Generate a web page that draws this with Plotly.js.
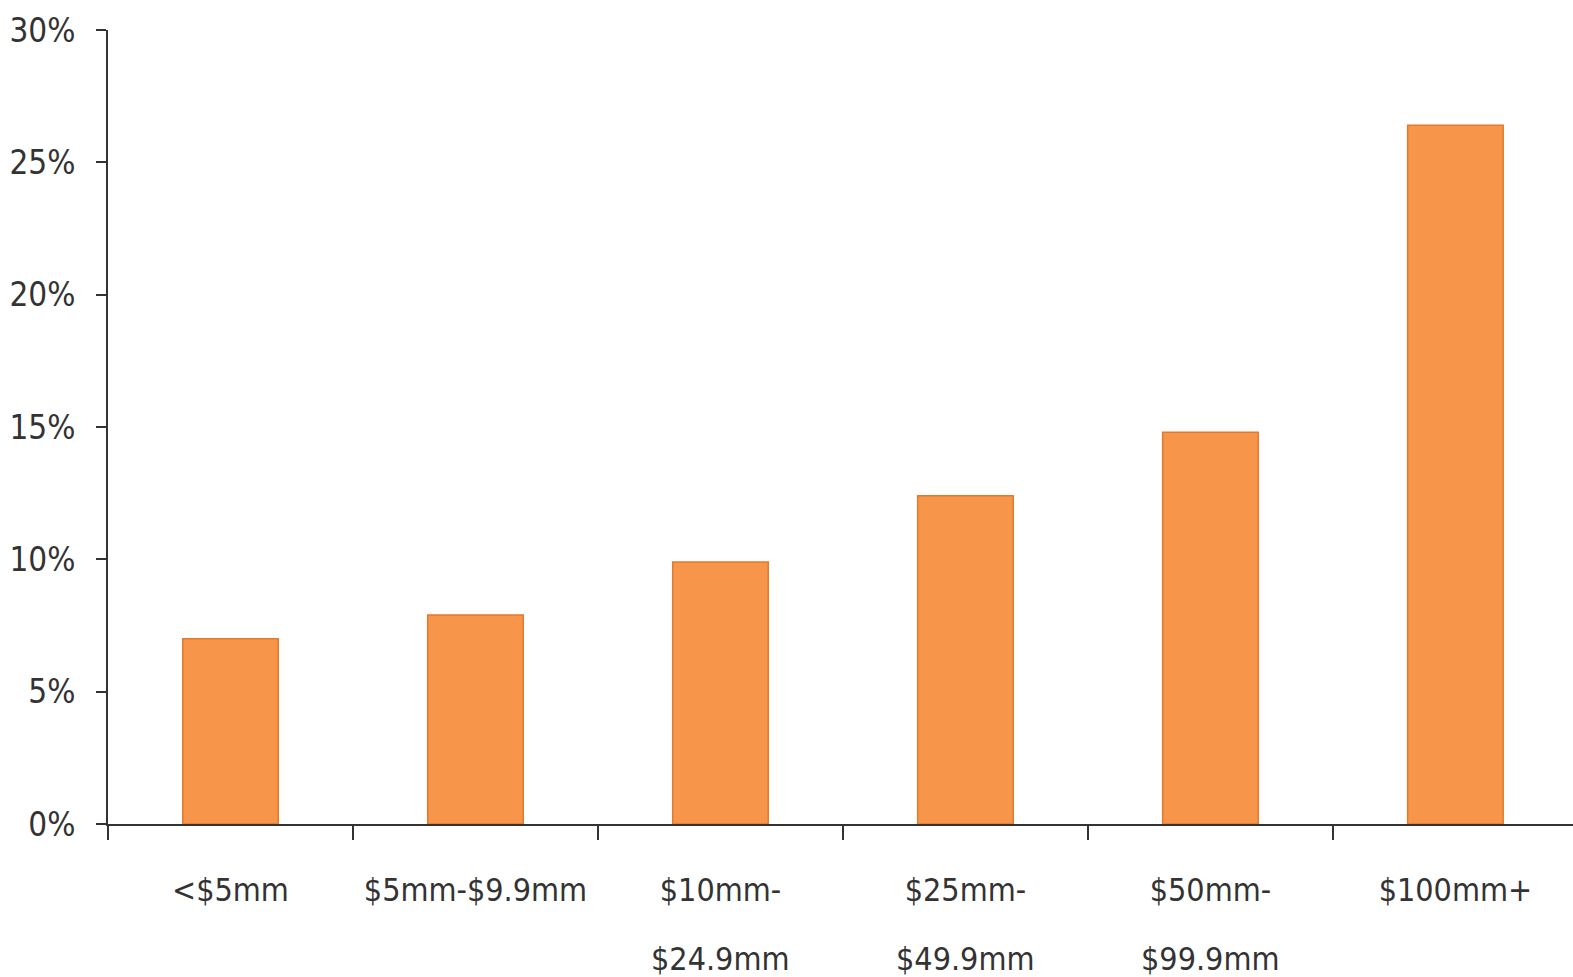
<!DOCTYPE html>
<html>
<head>
<meta charset="utf-8">
<script src="https://cdn.plot.ly/plotly-3.0.1.min.js"></script>
<style>
  html, body { margin: 0; padding: 0; background: #ffffff; }
  #chart { width: 1573px; height: 977px; }
</style>
</head>
<body>
<div id="chart"></div>
<script>
// ---- data ----
var categories = ['<$5mm', '$5mm-$9.9mm', '$10mm-$24.9mm', '$25mm-$49.9mm', '$50mm-$99.9mm', '$100mm+'];
var labelLine1 = ['<$5mm', '$5mm-$9.9mm', '$10mm-', '$25mm-', '$50mm-', '$100mm+'];
var labelLine2 = ['', '', '$24.9mm', '$49.9mm', '$99.9mm', ''];
var values = [7.0, 7.9, 9.9, 12.4, 14.8, 26.4];

var FONT = 'DejaVu Sans Condensed, DejaVu Sans, sans-serif';
var STRETCH = 'condensed';
var TEXT = '#333333';
var AXIS = '#333333';
var LABEL_SIZE = 32;

var trace = {
  type: 'bar',
  x: categories,
  y: values,
  width: 0.39,
  marker: { color: '#F7954A', line: { color: '#E27A2C', width: 1.5 } },
  hoverinfo: 'x+y'
};

var annotations = [];
for (var i = 0; i < categories.length; i++) {
  if (labelLine2[i]) {
    annotations.push({
      x: categories[i], xref: 'x', y: 0, yref: 'paper',
      yanchor: 'middle', yshift: -135, showarrow: false,
      text: labelLine2[i],
      font: { family: FONT, size: LABEL_SIZE, color: TEXT, stretch: STRETCH }
    });
  }
}

var layout = {
  width: 1573, height: 977,
  margin: { l: 108, r: 0, t: 30, b: 153 },
  paper_bgcolor: '#ffffff', plot_bgcolor: '#ffffff',
  showlegend: false,
  xaxis: {
    type: 'category',
    range: [-0.5, 5.48],
    tickmode: 'array',
    tickvals: categories,
    ticktext: labelLine1,
    tickangle: 0,
    tickson: 'boundaries',
    ticks: 'outside', ticklen: 14, tickwidth: 2, tickcolor: AXIS,
    showline: true, linecolor: AXIS, linewidth: 2,
    showgrid: false, zeroline: false,
    ticklabelstandoff: 37,
    tickfont: { family: FONT, size: LABEL_SIZE, color: TEXT, stretch: STRETCH }
  },
  yaxis: {
    range: [0, 30],
    tickmode: 'linear', tick0: 0, dtick: 5,
    ticksuffix: '%',
    ticks: 'outside', ticklen: 10, tickwidth: 2, tickcolor: AXIS,
    showline: true, linecolor: AXIS, linewidth: 2,
    showgrid: false, zeroline: false,
    ticklabelstandoff: 14,
    tickfont: { family: FONT, size: 33, color: TEXT, stretch: STRETCH }
  },
  annotations: annotations
};

Plotly.newPlot('chart', [trace], layout, { displayModeBar: false, staticPlot: true });
</script>
</body>
</html>
